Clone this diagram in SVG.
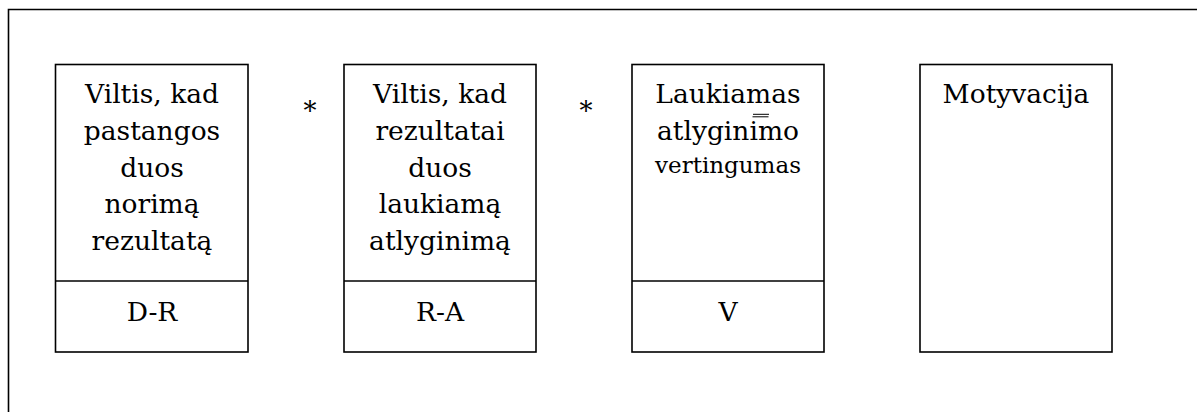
<svg xmlns="http://www.w3.org/2000/svg" width="1197" height="412" viewBox="0 0 1197 412">
<style>
.box{fill:#fff;stroke:#000;stroke-width:1.6}
.ln{stroke:#000;stroke-width:1.6;fill:none}
.txt text{fill:#000;text-anchor:middle;font-family:"DejaVu Serif","Liberation Serif",serif}
.t{font-size:26.5px}
.s{font-size:23px}
.ast{font-size:26px}
</style>
<rect width="1197" height="412" fill="#fff"/>
<path class="ln" d="M8.5,412 V9.5 H1197"/>
<g class="txt">
<g id="node-dr">
<rect class="box" x="55.5" y="64.5" width="192.5" height="287.5"/>
<line class="ln" x1="55.5" y1="281" x2="248" y2="281"/>
<text class="t" x="152" y="103">Viltis, kad</text>
<text class="t" x="152" y="140">pastangos</text>
<text class="t" x="152" y="177">duos</text>
<text class="t" x="152" y="213">norimą</text>
<text class="t" x="152" y="250">rezultatą</text>
<text class="t" x="152" y="321">D-R</text>
</g>
<g id="node-ra">
<rect class="box" x="344" y="64.5" width="192" height="287.5"/>
<line class="ln" x1="344" y1="281" x2="536" y2="281"/>
<text class="t" x="440" y="103">Viltis, kad</text>
<text class="t" x="440" y="140">rezultatai</text>
<text class="t" x="440" y="177">duos</text>
<text class="t" x="440" y="213">laukiamą</text>
<text class="t" x="440" y="250">atlyginimą</text>
<text class="t" x="440" y="321">R-A</text>
</g>
<g id="node-v">
<rect class="box" x="632" y="64.5" width="192" height="287.5"/>
<line class="ln" x1="632" y1="281" x2="824" y2="281"/>
<text class="t" x="728" y="103">Laukiamas</text>
<line x1="753" y1="114.3" x2="769" y2="114.3" stroke="#000" stroke-width="1"/>
<line x1="752.5" y1="116.8" x2="768.5" y2="116.8" stroke="#000" stroke-width="1"/>
<text class="t" x="728" y="140">atlyginimo</text>
<text class="s" x="728" y="173">vertingumas</text>
<text class="t" x="728" y="321">V</text>
</g>
<g id="node-m">
<rect class="box" x="920" y="64.5" width="192" height="287.5"/>
<text class="t" x="1016" y="103">Motyvacija</text>
</g>
<g id="connectors">
<text class="ast" x="310" y="120">*</text>
<text class="ast" x="586" y="120">*</text>
</g>
</g>
</svg>
